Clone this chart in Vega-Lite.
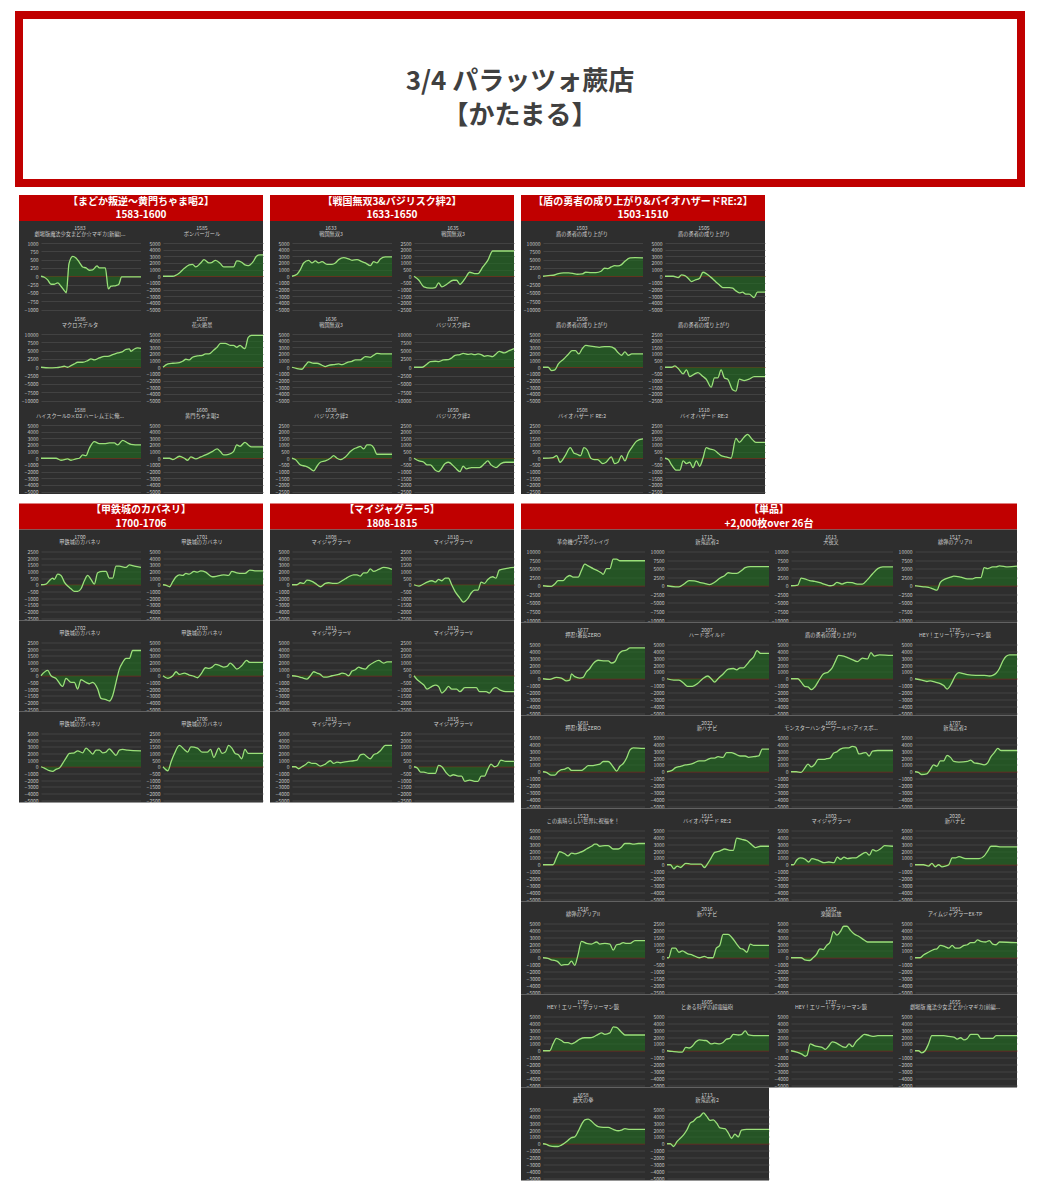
{
"$schema":"https://vega.github.io/schema/vega-lite/v6.json",
"background":"white",
"padding":{"left":15,"top":11,"right":0,"bottom":0},
"spacing":8,
"datasets":{
"d1583":[{"x":0,"y":0},{"x":1,"y":-30},{"x":2,"y":-110},{"x":3,"y":-240},{"x":4,"y":-240},{"x":5,"y":-200},{"x":6,"y":-300},{"x":7,"y":-430},{"x":7.6,"y":-500},{"x":8.4,"y":380},{"x":9.5,"y":600},{"x":10.5,"y":550},{"x":11.5,"y":420},{"x":12.5,"y":280},{"x":13.5,"y":250},{"x":14.5,"y":180},{"x":15.5,"y":190},{"x":16.8,"y":310},{"x":17.5,"y":250},{"x":18.5,"y":250},{"x":19.3,"y":250},{"x":20.2,"y":-380},{"x":21,"y":-300},{"x":22.5,"y":-280},{"x":23.3,"y":-250},{"x":24.2,"y":-20},{"x":26,"y":-20},{"x":30,"y":-20}],
"d1585":[{"x":0,"y":0},{"x":3,"y":0},{"x":5,"y":500},{"x":6.5,"y":1200},{"x":8,"y":1700},{"x":9,"y":1800},{"x":10,"y":1400},{"x":11.5,"y":2000},{"x":12.5,"y":2500},{"x":14,"y":2000},{"x":15,"y":2100},{"x":16,"y":2400},{"x":17.5,"y":1900},{"x":18.5,"y":1400},{"x":20,"y":1400},{"x":21.5,"y":1400},{"x":22.5,"y":2300},{"x":24,"y":2100},{"x":25,"y":1700},{"x":26,"y":1600},{"x":27.5,"y":2200},{"x":28.5,"y":3000},{"x":29.5,"y":3200},{"x":30.5,"y":3200}],
"d1586":[{"x":0,"y":0},{"x":2.5,"y":-200},{"x":4.5,"y":-100},{"x":5.5,"y":0},{"x":7,"y":300},{"x":8,"y":0},{"x":9,"y":500},{"x":10,"y":1000},{"x":11,"y":1500},{"x":12.5,"y":1500},{"x":14,"y":2000},{"x":15,"y":2500},{"x":16,"y":2200},{"x":17.5,"y":2800},{"x":19,"y":3300},{"x":20,"y":3300},{"x":21.5,"y":3800},{"x":23,"y":4300},{"x":24.5,"y":4700},{"x":25.5,"y":5400},{"x":26.5,"y":5500},{"x":27,"y":4800},{"x":28,"y":5500},{"x":29,"y":5800},{"x":30,"y":5700}],
"d1587":[{"x":0,"y":0},{"x":1.5,"y":500},{"x":3,"y":600},{"x":5,"y":700},{"x":6,"y":900},{"x":7,"y":1200},{"x":8,"y":1100},{"x":9,"y":1500},{"x":10.5,"y":1700},{"x":12,"y":1800},{"x":13,"y":2000},{"x":14,"y":2000},{"x":15.5,"y":2600},{"x":16.5,"y":3000},{"x":17.5,"y":3600},{"x":19,"y":3600},{"x":20.5,"y":3300},{"x":21.5,"y":3300},{"x":22.5,"y":3000},{"x":23.5,"y":3300},{"x":24.5,"y":2900},{"x":25,"y":2800},{"x":26,"y":4500},{"x":27,"y":4800},{"x":30.5,"y":4800}],
"d1588":[{"x":0,"y":0},{"x":4.5,"y":0},{"x":6,"y":-300},{"x":8,"y":-100},{"x":9,"y":-300},{"x":10.5,"y":-100},{"x":11.5,"y":0},{"x":12.5,"y":500},{"x":13.5,"y":400},{"x":14.5,"y":1500},{"x":16,"y":2500},{"x":17.5,"y":2200},{"x":19,"y":2200},{"x":20.5,"y":2300},{"x":22,"y":2300},{"x":23,"y":2000},{"x":24.5,"y":2700},{"x":26,"y":2300},{"x":27,"y":2100},{"x":30,"y":2000}],
"d1600":[{"x":0,"y":0},{"x":2,"y":0},{"x":3,"y":-200},{"x":5,"y":300},{"x":6.5,"y":0},{"x":7.5,"y":-300},{"x":8.5,"y":200},{"x":10,"y":-100},{"x":11.5,"y":200},{"x":13,"y":500},{"x":15,"y":1000},{"x":16.5,"y":1400},{"x":17.5,"y":1000},{"x":18.5,"y":500},{"x":20,"y":600},{"x":21.5,"y":1000},{"x":22.5,"y":2000},{"x":23.5,"y":1800},{"x":25,"y":2400},{"x":26,"y":2000},{"x":27,"y":1700},{"x":30.5,"y":1700}],
"d1633":[{"x":0,"y":0},{"x":1.5,"y":300},{"x":2.5,"y":1000},{"x":3.5,"y":2000},{"x":5,"y":2400},{"x":6,"y":2000},{"x":7,"y":2300},{"x":8,"y":2000},{"x":9,"y":2200},{"x":10.5,"y":1800},{"x":12,"y":1800},{"x":13,"y":2000},{"x":14,"y":2500},{"x":15.5,"y":2800},{"x":17,"y":2600},{"x":18,"y":2400},{"x":19.5,"y":2500},{"x":21,"y":2200},{"x":22,"y":2000},{"x":23.5,"y":1600},{"x":24.5,"y":2200},{"x":25.5,"y":2000},{"x":26.5,"y":2600},{"x":28,"y":2900},{"x":30,"y":2900}],
"d1635":[{"x":0,"y":0},{"x":1.5,"y":-300},{"x":3,"y":-800},{"x":5,"y":-900},{"x":6.5,"y":-850},{"x":7.5,"y":-500},{"x":8.5,"y":-800},{"x":10,"y":-600},{"x":12,"y":-300},{"x":13,"y":-300},{"x":14,"y":-600},{"x":15.5,"y":-200},{"x":17,"y":300},{"x":18.5,"y":200},{"x":19.5,"y":200},{"x":21,"y":700},{"x":22.5,"y":1200},{"x":24,"y":1900},{"x":30.5,"y":1900}],
"d1636":[{"x":0,"y":0},{"x":1.5,"y":-200},{"x":3,"y":-300},{"x":4,"y":300},{"x":5,"y":800},{"x":6.5,"y":600},{"x":7.5,"y":600},{"x":9,"y":300},{"x":10,"y":100},{"x":11,"y":300},{"x":12.5,"y":400},{"x":14,"y":500},{"x":15,"y":400},{"x":16.5,"y":700},{"x":18,"y":900},{"x":19,"y":1100},{"x":20.5,"y":1100},{"x":22,"y":1600},{"x":23.5,"y":1500},{"x":24.5,"y":1800},{"x":25.5,"y":2100},{"x":27,"y":2000},{"x":30,"y":2000}],
"d1637":[{"x":0,"y":0},{"x":2.5,"y":0},{"x":4,"y":1000},{"x":5,"y":1700},{"x":6.5,"y":1800},{"x":7.5,"y":1700},{"x":9,"y":2200},{"x":10.5,"y":2300},{"x":11.5,"y":2800},{"x":12.5,"y":3600},{"x":14,"y":3800},{"x":15,"y":4200},{"x":16.5,"y":3900},{"x":17.5,"y":4000},{"x":18.5,"y":3800},{"x":19.5,"y":4000},{"x":20.5,"y":3800},{"x":21.5,"y":3300},{"x":22.5,"y":3500},{"x":24,"y":3200},{"x":25,"y":4000},{"x":26,"y":4800},{"x":27.5,"y":4300},{"x":29,"y":5000},{"x":30.5,"y":5600}],
"d1638":[{"x":0,"y":0},{"x":1,"y":-100},{"x":2.5,"y":-500},{"x":4,"y":-600},{"x":5,"y":-700},{"x":6.5,"y":-950},{"x":7.5,"y":-600},{"x":8.5,"y":-300},{"x":10,"y":-200},{"x":11.5,"y":0},{"x":12.5,"y":200},{"x":13.5,"y":0},{"x":14.5,"y":-100},{"x":16,"y":100},{"x":17.5,"y":500},{"x":18.5,"y":700},{"x":19.5,"y":800},{"x":20.5,"y":900},{"x":21.5,"y":700},{"x":22.5,"y":1000},{"x":23.5,"y":1000},{"x":24.5,"y":800},{"x":25.5,"y":300},{"x":27.5,"y":300},{"x":30,"y":300}],
"d1650":[{"x":0,"y":0},{"x":1.5,"y":-200},{"x":3,"y":-300},{"x":4,"y":-500},{"x":5,"y":-500},{"x":6.5,"y":-900},{"x":7.5,"y":-1000},{"x":9.5,"y":-400},{"x":10.5,"y":-300},{"x":12.5,"y":-700},{"x":14,"y":-1000},{"x":15,"y":-600},{"x":16,"y":-800},{"x":17.5,"y":-700},{"x":20,"y":-700},{"x":21.5,"y":-400},{"x":22.5,"y":-200},{"x":23.5,"y":-500},{"x":25,"y":-700},{"x":26.5,"y":-400},{"x":28,"y":-300},{"x":30.5,"y":-300}],
"d1503":[{"x":0,"y":0},{"x":1.5,"y":200},{"x":3,"y":300},{"x":4.5,"y":800},{"x":6,"y":1000},{"x":7.5,"y":1000},{"x":9,"y":800},{"x":10,"y":600},{"x":11.5,"y":700},{"x":12.5,"y":1200},{"x":14,"y":1100},{"x":15.5,"y":1100},{"x":17,"y":1500},{"x":18,"y":2400},{"x":19,"y":2300},{"x":20,"y":2800},{"x":21,"y":3200},{"x":22,"y":3100},{"x":23,"y":3500},{"x":24,"y":4500},{"x":25.5,"y":5500},{"x":27,"y":5600},{"x":29.3,"y":5500}],
"d1505":[{"x":0,"y":0},{"x":2.5,"y":0},{"x":4,"y":-200},{"x":5,"y":200},{"x":6,"y":100},{"x":7,"y":-300},{"x":8,"y":-800},{"x":9,"y":-600},{"x":10.5,"y":-300},{"x":11.5,"y":600},{"x":12.5,"y":400},{"x":13.5,"y":0},{"x":14.5,"y":-400},{"x":15.5,"y":-900},{"x":16.5,"y":-1300},{"x":17.5,"y":-1700},{"x":19.5,"y":-1700},{"x":20.5,"y":-1800},{"x":21.5,"y":-2200},{"x":22.5,"y":-2500},{"x":23.5,"y":-2400},{"x":24.5,"y":-2700},{"x":25.5,"y":-2700},{"x":27,"y":-3200},{"x":28,"y":-2400},{"x":30.3,"y":-2400}],
"d1506":[{"x":0,"y":0},{"x":1.5,"y":0},{"x":2.5,"y":-500},{"x":3.5,"y":-400},{"x":4.5,"y":500},{"x":6,"y":1200},{"x":7.5,"y":2000},{"x":8.5,"y":2500},{"x":9.5,"y":2500},{"x":10.5,"y":2000},{"x":11.5,"y":2800},{"x":12.5,"y":3300},{"x":13.5,"y":3200},{"x":15,"y":3100},{"x":16.5,"y":3000},{"x":18,"y":3100},{"x":19.5,"y":3100},{"x":21,"y":2800},{"x":22,"y":2200},{"x":23,"y":1800},{"x":24,"y":2300},{"x":25,"y":1800},{"x":26,"y":2000},{"x":29.3,"y":2000}],
"d1507":[{"x":0,"y":0},{"x":2,"y":0},{"x":3,"y":100},{"x":4,"y":-100},{"x":5.5,"y":-500},{"x":6.5,"y":-200},{"x":7.5,"y":-700},{"x":9,"y":-500},{"x":10,"y":-400},{"x":11.5,"y":-700},{"x":12.5,"y":-900},{"x":14,"y":-1500},{"x":15,"y":-800},{"x":16,"y":-800},{"x":17,"y":-200},{"x":18,"y":-800},{"x":19,"y":-900},{"x":20.5,"y":-1700},{"x":21.5,"y":-1800},{"x":22.5,"y":-900},{"x":24,"y":-1000},{"x":25.5,"y":-900},{"x":27,"y":-700},{"x":30.3,"y":-700}],
"d1508":[{"x":0,"y":0},{"x":3,"y":50},{"x":4,"y":200},{"x":5,"y":-300},{"x":6.5,"y":200},{"x":8,"y":800},{"x":9,"y":400},{"x":10,"y":300},{"x":11,"y":200},{"x":12,"y":800},{"x":13,"y":600},{"x":14,"y":0},{"x":15,"y":-100},{"x":16,"y":-100},{"x":17.5,"y":-400},{"x":18.5,"y":-300},{"x":20,"y":100},{"x":21,"y":-400},{"x":22,"y":-300},{"x":23,"y":200},{"x":24,"y":-200},{"x":25,"y":400},{"x":26,"y":800},{"x":27.5,"y":1300},{"x":29.3,"y":1450}],
"d1510":[{"x":0,"y":0},{"x":1,"y":-100},{"x":2,"y":-500},{"x":3.5,"y":-900},{"x":4.5,"y":-900},{"x":5.5,"y":-200},{"x":6.5,"y":-400},{"x":7.5,"y":-300},{"x":8.5,"y":-700},{"x":9.5,"y":-200},{"x":10.5,"y":-600},{"x":11.5,"y":0},{"x":12.5,"y":800},{"x":13.5,"y":700},{"x":15,"y":600},{"x":16,"y":400},{"x":17,"y":200},{"x":18.5,"y":100},{"x":20,"y":0},{"x":21.5,"y":1500},{"x":22.5,"y":1200},{"x":24,"y":1600},{"x":25,"y":1800},{"x":26.5,"y":1400},{"x":27.5,"y":1200},{"x":30.3,"y":1200}],
"d1700":[{"x":0,"y":0},{"x":1.5,"y":50},{"x":2.5,"y":300},{"x":3.5,"y":500},{"x":4,"y":400},{"x":5,"y":800},{"x":6,"y":700},{"x":7,"y":200},{"x":8,"y":-100},{"x":9,"y":-300},{"x":10,"y":-500},{"x":11,"y":-500},{"x":12,"y":-300},{"x":13,"y":300},{"x":14,"y":700},{"x":15,"y":400},{"x":16,"y":50},{"x":17,"y":900},{"x":18.5,"y":1000},{"x":19.5,"y":1000},{"x":20.5,"y":500},{"x":21.5,"y":500},{"x":22.5,"y":1400},{"x":23.5,"y":1400},{"x":25.5,"y":1300},{"x":26.5,"y":1500},{"x":28,"y":1400},{"x":30,"y":1300}],
"d1701":[{"x":0,"y":0},{"x":1,"y":-100},{"x":2,"y":-300},{"x":3,"y":500},{"x":4,"y":1200},{"x":5,"y":1500},{"x":6,"y":1400},{"x":7,"y":1700},{"x":8,"y":1600},{"x":9.5,"y":2000},{"x":10.5,"y":1900},{"x":11.5,"y":2100},{"x":13,"y":1900},{"x":14,"y":1500},{"x":15,"y":1200},{"x":16.5,"y":1300},{"x":17.5,"y":1400},{"x":18.5,"y":1500},{"x":20,"y":1400},{"x":21,"y":2000},{"x":22.5,"y":1800},{"x":24,"y":1700},{"x":25,"y":1700},{"x":26.5,"y":2200},{"x":28,"y":2100},{"x":30.5,"y":2100}],
"d1702":[{"x":0,"y":0},{"x":2,"y":400},{"x":3,"y":0},{"x":4.5,"y":-200},{"x":6.5,"y":-800},{"x":7.5,"y":-200},{"x":9,"y":-500},{"x":10,"y":-500},{"x":11,"y":-1000},{"x":12,"y":-300},{"x":13.5,"y":-500},{"x":14.5,"y":-600},{"x":15.5,"y":-500},{"x":17,"y":-1000},{"x":18,"y":-1700},{"x":19.5,"y":-1800},{"x":20.5,"y":-1900},{"x":21.5,"y":-1500},{"x":22.5,"y":-500},{"x":23.5,"y":500},{"x":24.5,"y":1000},{"x":25.5,"y":1300},{"x":26.5,"y":1300},{"x":27.5,"y":1900},{"x":30,"y":1900}],
"d1703":[{"x":0,"y":0},{"x":1.5,"y":-400},{"x":3,"y":0},{"x":4,"y":600},{"x":5,"y":200},{"x":6.5,"y":400},{"x":8,"y":100},{"x":9.5,"y":-100},{"x":10.5,"y":-300},{"x":11.5,"y":200},{"x":13,"y":1200},{"x":14,"y":1100},{"x":15,"y":1300},{"x":16,"y":1700},{"x":17.5,"y":1500},{"x":18.5,"y":1300},{"x":19.5,"y":1400},{"x":20.5,"y":1900},{"x":21.5,"y":1500},{"x":22.5,"y":1000},{"x":24,"y":1500},{"x":25.5,"y":2300},{"x":26.5,"y":2000},{"x":30.5,"y":2000}],
"d1705":[{"x":0,"y":0},{"x":1,"y":-200},{"x":2.5,"y":-600},{"x":3.5,"y":-700},{"x":4.5,"y":-400},{"x":5.5,"y":-200},{"x":6.5,"y":500},{"x":7.5,"y":1300},{"x":8.5,"y":2000},{"x":10,"y":2100},{"x":11,"y":2400},{"x":12.5,"y":2100},{"x":13.5,"y":2800},{"x":14.5,"y":2400},{"x":15.5,"y":1900},{"x":16.5,"y":2500},{"x":17.5,"y":2500},{"x":18.5,"y":2100},{"x":19.5,"y":2200},{"x":20.5,"y":2700},{"x":21.5,"y":2200},{"x":22.5,"y":1700},{"x":23.5,"y":2500},{"x":24.5,"y":2600},{"x":26,"y":2500},{"x":30,"y":2400}],
"d1706":[{"x":0,"y":0},{"x":1.5,"y":-300},{"x":2.5,"y":400},{"x":3.5,"y":1000},{"x":5,"y":1600},{"x":6.5,"y":1300},{"x":7.5,"y":1100},{"x":8.5,"y":1500},{"x":10.5,"y":1400},{"x":12,"y":1100},{"x":13.5,"y":1100},{"x":14.5,"y":1300},{"x":15.5,"y":700},{"x":17,"y":1400},{"x":18,"y":1000},{"x":19,"y":1100},{"x":20,"y":1600},{"x":21,"y":1400},{"x":22,"y":1000},{"x":23,"y":900},{"x":24,"y":600},{"x":25,"y":1300},{"x":26,"y":1000},{"x":30.5,"y":1000}],
"d1808":[{"x":0,"y":0},{"x":1.5,"y":0},{"x":2.5,"y":300},{"x":3.5,"y":200},{"x":4.5,"y":700},{"x":6,"y":500},{"x":7,"y":200},{"x":8.5,"y":-300},{"x":10,"y":200},{"x":11,"y":300},{"x":12.5,"y":200},{"x":13.5,"y":200},{"x":15,"y":600},{"x":16,"y":900},{"x":17,"y":1200},{"x":18.5,"y":1500},{"x":19.5,"y":1500},{"x":20.5,"y":1300},{"x":21.5,"y":1800},{"x":22.5,"y":1800},{"x":23.5,"y":2400},{"x":24.5,"y":2000},{"x":26,"y":2300},{"x":27.5,"y":2600},{"x":29,"y":2500},{"x":30,"y":2300}],
"d1810":[{"x":0,"y":0},{"x":1.5,"y":-100},{"x":2.5,"y":0},{"x":4,"y":200},{"x":5.5,"y":300},{"x":6.5,"y":200},{"x":7.5,"y":400},{"x":8.5,"y":300},{"x":9.5,"y":500},{"x":10.5,"y":500},{"x":11.5,"y":0},{"x":12.5,"y":-500},{"x":14,"y":-1000},{"x":15,"y":-1300},{"x":16.5,"y":-1000},{"x":17.5,"y":-600},{"x":18.5,"y":-400},{"x":19.5,"y":-400},{"x":20.5,"y":200},{"x":21.5,"y":100},{"x":22.5,"y":400},{"x":24,"y":600},{"x":25,"y":500},{"x":26,"y":1100},{"x":27.5,"y":1200},{"x":30.5,"y":1300}],
"d1811":[{"x":0,"y":0},{"x":1.5,"y":-100},{"x":3,"y":-300},{"x":4.5,"y":-500},{"x":5.5,"y":0},{"x":6.5,"y":600},{"x":7.5,"y":400},{"x":8.5,"y":200},{"x":9.5,"y":-200},{"x":10.5,"y":-200},{"x":12,"y":0},{"x":13,"y":100},{"x":14,"y":200},{"x":15,"y":400},{"x":16,"y":300},{"x":17,"y":0},{"x":18,"y":700},{"x":19,"y":900},{"x":20,"y":1300},{"x":21,"y":1100},{"x":22,"y":1000},{"x":23,"y":1500},{"x":24.5,"y":2000},{"x":26,"y":2300},{"x":27.5,"y":1900},{"x":28.5,"y":2100},{"x":30,"y":2100}],
"d1812":[{"x":0,"y":0},{"x":1,"y":-300},{"x":2,"y":-500},{"x":3,"y":-700},{"x":4,"y":-1000},{"x":5.5,"y":-800},{"x":6.5,"y":-700},{"x":7.5,"y":-800},{"x":8.5,"y":-1300},{"x":9.5,"y":-1100},{"x":10.5,"y":-800},{"x":11.5,"y":-1000},{"x":13,"y":-1000},{"x":14,"y":-1200},{"x":15.5,"y":-900},{"x":18,"y":-900},{"x":19,"y":-900},{"x":20,"y":-1200},{"x":22,"y":-1200},{"x":23,"y":-1300},{"x":24,"y":-1000},{"x":25,"y":-900},{"x":26.5,"y":-1100},{"x":28,"y":-1200},{"x":30.5,"y":-1200}],
"d1813":[{"x":0,"y":0},{"x":1,"y":0},{"x":2,"y":-300},{"x":3,"y":0},{"x":4,"y":300},{"x":5,"y":700},{"x":6,"y":500},{"x":7,"y":500},{"x":8.5,"y":100},{"x":10,"y":400},{"x":11.5,"y":900},{"x":12.5,"y":500},{"x":13.5,"y":700},{"x":14.5,"y":600},{"x":15.5,"y":700},{"x":17,"y":800},{"x":18.5,"y":900},{"x":19.5,"y":1000},{"x":20.5,"y":1800},{"x":21.5,"y":1900},{"x":22.5,"y":1500},{"x":23.5,"y":1200},{"x":24.5,"y":1800},{"x":25.5,"y":2000},{"x":26.5,"y":2400},{"x":28,"y":3200},{"x":30,"y":3200}],
"d1815":[{"x":0,"y":0},{"x":1,"y":-100},{"x":2,"y":-400},{"x":3,"y":-400},{"x":4.5,"y":-500},{"x":5.5,"y":-500},{"x":6.5,"y":-500},{"x":7.5,"y":100},{"x":8.5,"y":0},{"x":10,"y":-500},{"x":11,"y":-700},{"x":12,"y":-600},{"x":13.5,"y":-700},{"x":14.5,"y":-700},{"x":15.5,"y":-1100},{"x":17,"y":-1000},{"x":18.5,"y":-1100},{"x":19.5,"y":-1100},{"x":20.5,"y":-700},{"x":21.5,"y":-700},{"x":22.5,"y":-200},{"x":23.5,"y":200},{"x":24.5,"y":0},{"x":25.5,"y":100},{"x":26.5,"y":500},{"x":28,"y":400},{"x":30.5,"y":400}],
"d1730":[{"x":0,"y":0},{"x":2.5,"y":-200},{"x":3.5,"y":500},{"x":4.5,"y":1500},{"x":6,"y":1500},{"x":7,"y":2500},{"x":8,"y":3000},{"x":9,"y":2500},{"x":10.5,"y":2500},{"x":11.5,"y":4500},{"x":12.5,"y":6300},{"x":13.5,"y":5800},{"x":15,"y":5000},{"x":16.5,"y":4300},{"x":17.5,"y":3700},{"x":18,"y":3300},{"x":19,"y":5000},{"x":20,"y":5000},{"x":21,"y":7800},{"x":22,"y":7800},{"x":23,"y":7300},{"x":30.5,"y":7300}],
"d1712":[{"x":0,"y":0},{"x":2.5,"y":-300},{"x":3.5,"y":-300},{"x":5,"y":500},{"x":6.5,"y":1500},{"x":8,"y":1400},{"x":9.5,"y":1000},{"x":11,"y":700},{"x":12.5,"y":300},{"x":14,"y":1000},{"x":15.5,"y":2200},{"x":17,"y":3000},{"x":18,"y":3800},{"x":19.5,"y":3600},{"x":20.5,"y":3600},{"x":22,"y":4500},{"x":23,"y":5300},{"x":24.5,"y":5600},{"x":30,"y":5600}],
"d1613":[{"x":0,"y":0},{"x":2,"y":200},{"x":3,"y":2200},{"x":4,"y":2000},{"x":5.5,"y":1500},{"x":7,"y":1300},{"x":8.5,"y":900},{"x":10,"y":400},{"x":11.5,"y":0},{"x":12.5,"y":200},{"x":13.5,"y":1000},{"x":15,"y":500},{"x":16.5,"y":1000},{"x":18,"y":900},{"x":19.5,"y":500},{"x":21,"y":500},{"x":22.5,"y":1800},{"x":24,"y":3500},{"x":25.5,"y":5000},{"x":27,"y":5500},{"x":30,"y":5500}],
"d1517":[{"x":0,"y":0},{"x":2.5,"y":-300},{"x":4,"y":-500},{"x":5.5,"y":-1000},{"x":6.5,"y":-1300},{"x":7.5,"y":1000},{"x":9,"y":2000},{"x":10.5,"y":2500},{"x":11.5,"y":2800},{"x":13.5,"y":2500},{"x":15.5,"y":2000},{"x":17,"y":2000},{"x":18,"y":2400},{"x":19.5,"y":2400},{"x":20.5,"y":5300},{"x":21.5,"y":5000},{"x":23,"y":5500},{"x":24,"y":5500},{"x":25,"y":5800},{"x":27.5,"y":5500},{"x":30.2,"y":5700}],
"d1677":[{"x":0,"y":0},{"x":2,"y":-100},{"x":4,"y":200},{"x":5.5,"y":100},{"x":7,"y":-300},{"x":8,"y":-200},{"x":8.5,"y":700},{"x":9.5,"y":300},{"x":11,"y":100},{"x":12,"y":200},{"x":13,"y":1000},{"x":14,"y":1500},{"x":15,"y":2200},{"x":16.5,"y":2700},{"x":18.5,"y":2600},{"x":19.5,"y":2600},{"x":20.5,"y":2300},{"x":21.5,"y":2500},{"x":22.5,"y":3500},{"x":23.5,"y":4000},{"x":25,"y":4200},{"x":26,"y":4500},{"x":30.5,"y":4500}],
"d2007":[{"x":0,"y":0},{"x":2,"y":-200},{"x":3.5,"y":-200},{"x":5,"y":-700},{"x":6,"y":-1100},{"x":7.5,"y":-1100},{"x":9,"y":-700},{"x":10.5,"y":0},{"x":12,"y":400},{"x":13,"y":0},{"x":14,"y":-500},{"x":15,"y":0},{"x":16.5,"y":700},{"x":18,"y":1400},{"x":19.5,"y":1500},{"x":20.5,"y":1300},{"x":21.5,"y":1600},{"x":22.5,"y":1600},{"x":23.5,"y":2100},{"x":24.5,"y":2700},{"x":25.5,"y":3200},{"x":26.5,"y":4100},{"x":27.5,"y":3700},{"x":30,"y":3700}],
"d1501":[{"x":0,"y":0},{"x":2,"y":0},{"x":3,"y":-500},{"x":4,"y":-1100},{"x":5,"y":-1200},{"x":6,"y":-1600},{"x":7,"y":-1200},{"x":8.5,"y":0},{"x":9.5,"y":700},{"x":11,"y":1000},{"x":12,"y":1500},{"x":13,"y":2500},{"x":14,"y":3400},{"x":15.5,"y":3300},{"x":17,"y":3000},{"x":18,"y":2800},{"x":19.5,"y":2500},{"x":21,"y":3000},{"x":22.5,"y":2900},{"x":23.5,"y":3800},{"x":24.5,"y":3300},{"x":26,"y":3500},{"x":30,"y":3400}],
"d1735":[{"x":0,"y":0},{"x":2,"y":-200},{"x":3.5,"y":-400},{"x":4.5,"y":-300},{"x":6,"y":-500},{"x":7.5,"y":-700},{"x":8.5,"y":-1000},{"x":9.5,"y":-1500},{"x":11,"y":-500},{"x":12,"y":500},{"x":13,"y":900},{"x":14,"y":800},{"x":15.5,"y":600},{"x":18,"y":500},{"x":20.5,"y":500},{"x":22,"y":400},{"x":23,"y":500},{"x":24,"y":800},{"x":25,"y":1500},{"x":26,"y":2600},{"x":27,"y":3300},{"x":28,"y":3500},{"x":30.2,"y":3500}],
"d1681":[{"x":0,"y":0},{"x":1,"y":-100},{"x":2.5,"y":-500},{"x":3.5,"y":-500},{"x":4.5,"y":0},{"x":5.5,"y":300},{"x":6.5,"y":400},{"x":7.5,"y":600},{"x":8.5,"y":200},{"x":10,"y":200},{"x":11.5,"y":200},{"x":12.5,"y":500},{"x":13.5,"y":900},{"x":15,"y":900},{"x":16,"y":1000},{"x":17,"y":1100},{"x":18,"y":1500},{"x":19.5,"y":1500},{"x":21,"y":700},{"x":22,"y":100},{"x":23,"y":800},{"x":24,"y":1200},{"x":25,"y":2000},{"x":26,"y":3200},{"x":27,"y":3500},{"x":30.5,"y":3400}],
"d2022":[{"x":0,"y":0},{"x":1.5,"y":200},{"x":2.5,"y":600},{"x":4,"y":800},{"x":5.5,"y":1000},{"x":7,"y":1100},{"x":8,"y":1300},{"x":9.5,"y":1600},{"x":11,"y":1600},{"x":12,"y":1800},{"x":13,"y":2000},{"x":14,"y":2000},{"x":15,"y":2200},{"x":16.5,"y":2100},{"x":17.5,"y":2800},{"x":19,"y":2800},{"x":20,"y":2600},{"x":21.5,"y":2300},{"x":23,"y":2300},{"x":24,"y":2100},{"x":25.5,"y":2200},{"x":27,"y":2300},{"x":28,"y":3300},{"x":30,"y":3300}],
"d1665":[{"x":0,"y":0},{"x":1.5,"y":0},{"x":3,"y":-100},{"x":4,"y":500},{"x":5,"y":1100},{"x":6,"y":700},{"x":7,"y":1100},{"x":8,"y":1800},{"x":9.5,"y":1800},{"x":10.5,"y":1900},{"x":11.5,"y":2000},{"x":12.5,"y":2700},{"x":13.5,"y":2900},{"x":14.5,"y":3300},{"x":16,"y":3500},{"x":17,"y":3500},{"x":18,"y":3700},{"x":19,"y":3600},{"x":20,"y":2600},{"x":21,"y":2700},{"x":22,"y":2800},{"x":23,"y":2300},{"x":24,"y":3000},{"x":25.5,"y":3100},{"x":30,"y":3100}],
"d1707":[{"x":0,"y":0},{"x":1,"y":-100},{"x":2,"y":-400},{"x":3.5,"y":-300},{"x":4.5,"y":300},{"x":5.5,"y":1000},{"x":6.5,"y":800},{"x":7.5,"y":1600},{"x":8.5,"y":1600},{"x":9.5,"y":2400},{"x":10.5,"y":2100},{"x":11.5,"y":1500},{"x":13,"y":1400},{"x":15.5,"y":1500},{"x":16.5,"y":1700},{"x":17.5,"y":1300},{"x":19,"y":1200},{"x":20.5,"y":1000},{"x":21.5,"y":1300},{"x":22.5,"y":2200},{"x":23.5,"y":2800},{"x":24.5,"y":3400},{"x":25.5,"y":3100},{"x":30.2,"y":3100}],
"d1523":[{"x":0,"y":0},{"x":3,"y":0},{"x":4,"y":1000},{"x":5,"y":1900},{"x":6.5,"y":1600},{"x":7.5,"y":1300},{"x":8.5,"y":1700},{"x":9.5,"y":1600},{"x":11,"y":1800},{"x":12,"y":2000},{"x":13,"y":2300},{"x":14.5,"y":2700},{"x":15.5,"y":3000},{"x":16,"y":3000},{"x":17,"y":2700},{"x":18.5,"y":2800},{"x":19.5,"y":2800},{"x":21,"y":2300},{"x":22.5,"y":2300},{"x":23.5,"y":2600},{"x":24.5,"y":3100},{"x":26,"y":3100},{"x":27,"y":3000},{"x":28.5,"y":3100},{"x":30.5,"y":3100}],
"d1515":[{"x":0,"y":0},{"x":1,"y":0},{"x":2,"y":-600},{"x":3,"y":-200},{"x":4,"y":-400},{"x":5.5,"y":200},{"x":7,"y":100},{"x":8.5,"y":100},{"x":10,"y":100},{"x":11,"y":-400},{"x":12,"y":200},{"x":13,"y":1000},{"x":14,"y":1800},{"x":15.5,"y":2000},{"x":17,"y":2300},{"x":18.5,"y":2100},{"x":19.5,"y":2100},{"x":20.5,"y":3900},{"x":22,"y":3700},{"x":23.5,"y":3500},{"x":25,"y":2900},{"x":26,"y":2500},{"x":27.5,"y":2700},{"x":30,"y":2700}],
"d1802":[{"x":0,"y":0},{"x":0.7,"y":0},{"x":1.7,"y":700},{"x":2.7,"y":1000},{"x":4.2,"y":800},{"x":5.2,"y":400},{"x":6.2,"y":900},{"x":7.7,"y":700},{"x":8.7,"y":500},{"x":9.7,"y":300},{"x":11.2,"y":400},{"x":12.7,"y":300},{"x":13.7,"y":1100},{"x":14.7,"y":800},{"x":15.7,"y":1100},{"x":16.7,"y":900},{"x":18.2,"y":1000},{"x":19.2,"y":1000},{"x":20.2,"y":1300},{"x":22.2,"y":1800},{"x":23.2,"y":1400},{"x":24.2,"y":2200},{"x":25.2,"y":2000},{"x":26.7,"y":2400},{"x":27.7,"y":2800},{"x":30.2,"y":2700}],
"d2020":[{"x":0,"y":0},{"x":2.5,"y":0},{"x":4,"y":-200},{"x":5,"y":200},{"x":6,"y":-300},{"x":7,"y":0},{"x":8,"y":-300},{"x":9,"y":-200},{"x":10,"y":0},{"x":11,"y":1000},{"x":12,"y":1000},{"x":13,"y":1200},{"x":15,"y":900},{"x":19,"y":900},{"x":20.5,"y":1300},{"x":21.5,"y":2000},{"x":22.5,"y":2700},{"x":24,"y":2700},{"x":25.5,"y":2600},{"x":30.2,"y":2600}],
"d1516":[{"x":0,"y":0},{"x":1.5,"y":-100},{"x":2.5,"y":-300},{"x":3.5,"y":-400},{"x":4.5,"y":-600},{"x":5.5,"y":-1100},{"x":6.5,"y":-1000},{"x":7.5,"y":-1000},{"x":8.5,"y":-500},{"x":9.5,"y":-1100},{"x":10.5,"y":500},{"x":11.5,"y":2400},{"x":13,"y":2100},{"x":14.5,"y":2000},{"x":16,"y":2300},{"x":17,"y":2000},{"x":18.5,"y":2100},{"x":20,"y":2000},{"x":21,"y":1100},{"x":22,"y":1900},{"x":23,"y":2000},{"x":24,"y":2200},{"x":25,"y":2100},{"x":26,"y":2100},{"x":27.5,"y":2500},{"x":30.5,"y":2500}],
"d2016":[{"x":0,"y":0},{"x":0.5,"y":0},{"x":1.5,"y":700},{"x":2.5,"y":700},{"x":3.5,"y":400},{"x":4.5,"y":500},{"x":6,"y":300},{"x":7.5,"y":200},{"x":9.5,"y":0},{"x":11,"y":100},{"x":12,"y":0},{"x":13.5,"y":0},{"x":14.5,"y":700},{"x":15.5,"y":900},{"x":16.5,"y":1700},{"x":18,"y":1700},{"x":19,"y":1500},{"x":20.5,"y":1000},{"x":21.5,"y":700},{"x":22.5,"y":600},{"x":23.5,"y":400},{"x":24.5,"y":1000},{"x":25.5,"y":900},{"x":28,"y":900},{"x":30,"y":900}],
"d1582":[{"x":0,"y":0},{"x":3,"y":0},{"x":4,"y":-300},{"x":5.5,"y":-400},{"x":6.5,"y":0},{"x":7.5,"y":500},{"x":8.5,"y":1300},{"x":9.5,"y":1200},{"x":10.5,"y":1800},{"x":11.5,"y":2300},{"x":12.5,"y":3800},{"x":13.5,"y":3300},{"x":14.5,"y":3800},{"x":15.5,"y":4600},{"x":16.5,"y":4600},{"x":17.5,"y":4000},{"x":18.5,"y":3500},{"x":20,"y":3100},{"x":21.5,"y":2600},{"x":22.5,"y":2300},{"x":30,"y":2300}],
"d1851":[{"x":0,"y":0},{"x":1.5,"y":0},{"x":2.5,"y":400},{"x":4,"y":800},{"x":5.5,"y":1200},{"x":6.5,"y":1300},{"x":7.5,"y":1800},{"x":9,"y":1600},{"x":10,"y":1400},{"x":11,"y":1800},{"x":12,"y":1400},{"x":13,"y":1400},{"x":14.5,"y":1800},{"x":15.5,"y":1900},{"x":16.5,"y":2200},{"x":17.5,"y":2200},{"x":18.5,"y":2600},{"x":19.5,"y":2400},{"x":21,"y":2300},{"x":22,"y":2500},{"x":23,"y":2000},{"x":24,"y":1900},{"x":25,"y":2300},{"x":30.2,"y":2200}],
"d1750":[{"x":0,"y":0},{"x":2,"y":0},{"x":3,"y":1000},{"x":4,"y":1800},{"x":5.5,"y":1500},{"x":6.5,"y":1200},{"x":7.5,"y":1200},{"x":8.5,"y":1000},{"x":9.5,"y":1200},{"x":11,"y":1700},{"x":12.5,"y":1900},{"x":14,"y":1900},{"x":15,"y":2000},{"x":16.5,"y":2400},{"x":17.5,"y":2600},{"x":18.5,"y":2400},{"x":20,"y":2600},{"x":21,"y":3500},{"x":22,"y":3400},{"x":23.5,"y":2700},{"x":24.5,"y":2300},{"x":30.5,"y":2300}],
"d1605":[{"x":0,"y":0},{"x":1.5,"y":-100},{"x":3.5,"y":-200},{"x":4.5,"y":-200},{"x":5.5,"y":500},{"x":6.5,"y":400},{"x":7.5,"y":700},{"x":8.5,"y":1300},{"x":9.5,"y":1600},{"x":11,"y":1500},{"x":11.5,"y":1500},{"x":13,"y":1000},{"x":14,"y":1100},{"x":15.5,"y":1000},{"x":16.5,"y":1200},{"x":17.5,"y":1700},{"x":18.5,"y":1800},{"x":19.5,"y":2400},{"x":21,"y":2300},{"x":22,"y":2400},{"x":23,"y":2900},{"x":24,"y":2300},{"x":25.5,"y":2200},{"x":30,"y":2200}],
"d1737":[{"x":0,"y":0},{"x":1.7,"y":-200},{"x":3.2,"y":-500},{"x":4.2,"y":-800},{"x":4.7,"y":-700},{"x":5.7,"y":1000},{"x":6.7,"y":800},{"x":8.2,"y":600},{"x":9.2,"y":500},{"x":10.2,"y":200},{"x":11.2,"y":700},{"x":12.2,"y":1300},{"x":13.2,"y":1200},{"x":14.2,"y":900},{"x":15.2,"y":600},{"x":16.2,"y":500},{"x":17.2,"y":1000},{"x":18.2,"y":600},{"x":19.2,"y":1300},{"x":20.7,"y":2000},{"x":21.7,"y":2400},{"x":22.7,"y":2300},{"x":24.2,"y":2100},{"x":25.7,"y":2200},{"x":30.2,"y":2200}],
"d1655":[{"x":0,"y":0},{"x":1,"y":0},{"x":2,"y":-300},{"x":3,"y":0},{"x":4,"y":1000},{"x":5,"y":2200},{"x":7,"y":2200},{"x":8.5,"y":2200},{"x":10,"y":2100},{"x":11.5,"y":2000},{"x":12.5,"y":1700},{"x":13.5,"y":1900},{"x":14.5,"y":1600},{"x":15.5,"y":1800},{"x":16.5,"y":2400},{"x":17.5,"y":2400},{"x":18.5,"y":2400},{"x":19.5,"y":1800},{"x":21,"y":1800},{"x":23,"y":1800},{"x":24,"y":2200},{"x":25.5,"y":2200},{"x":30.2,"y":2200}],
"d1658":[{"x":0,"y":0},{"x":1,"y":-100},{"x":2,"y":-300},{"x":3.5,"y":-400},{"x":4.5,"y":-400},{"x":5.5,"y":-200},{"x":6.5,"y":100},{"x":7.5,"y":500},{"x":8.5,"y":900},{"x":9.5,"y":1000},{"x":10.5,"y":1800},{"x":11.5,"y":2800},{"x":12.5,"y":3500},{"x":13.5,"y":3600},{"x":14.5,"y":3300},{"x":15.5,"y":2800},{"x":16.5,"y":2500},{"x":18,"y":2400},{"x":19.5,"y":2400},{"x":21,"y":2100},{"x":22.5,"y":1900},{"x":23.5,"y":2000},{"x":24.5,"y":2200},{"x":26,"y":2100},{"x":30.5,"y":2100}],
"d1713":[{"x":0,"y":0},{"x":1,"y":0},{"x":2,"y":-400},{"x":3,"y":300},{"x":4,"y":800},{"x":5,"y":1300},{"x":6,"y":2000},{"x":7,"y":3000},{"x":8,"y":3300},{"x":9,"y":3800},{"x":10,"y":4000},{"x":11,"y":4500},{"x":12,"y":4000},{"x":13,"y":3400},{"x":14,"y":3500},{"x":15,"y":3000},{"x":16,"y":2300},{"x":17.5,"y":2200},{"x":18.5,"y":1600},{"x":19.5,"y":800},{"x":20.5,"y":1400},{"x":21.5,"y":1000},{"x":22.5,"y":2000},{"x":24,"y":2100},{"x":30.8,"y":2100}]
},
"vconcat":[
 {"width":1002,"height":168,"view":{"fill":"white","stroke":"#c00000","strokeWidth":8},"data":{"values":[{"k":1,"t":"3/4 パラッツォ蕨店"},{"k":2,"t":"【かたまる】"}]},"mark":{"type":"text","fontSize":26,"fontWeight":"bold","color":"#404040","font":"Noto Sans CJK JP"},"encoding":{"y":{"field":"k","type":"ordinal","axis":null,"scale":{"range":[67,101],"padding":0}},"text":{"field":"t"}}},
 {"vconcat":[
 {"hconcat":[
 {"vconcat":[
  {"width":244,"height":26,"view":{"fill":"#c00000"},"data":{"values":[{"k":1,"t":"【まどか叛逆～黄門ちゃま喝2】"},{"k":2,"t":"1583-1600"}]},"mark":{"type":"text","fontSize":10,"fontWeight":"bold","color":"white"},"encoding":{"y":{"field":"k","type":"ordinal","axis":null,"scale":{"range":[6.5,20],"padding":0}},"text":{"field":"t"}}},
  {"concat":[
   {"data":{"name":"d1583"},"title":{"text":["1583","劇場版魔法少女まどか☆マギカ[新編]..."]},"encoding":{"x":{"field":"x","type":"quantitative","axis":null,"scale":{"nice":false,"range":[22,122]}},"y":{"field":"y","type":"quantitative","scale":{"domain":[-1000,1000],"range":[88.5,22]},"axis":{"title":null,"values":[-1000,-750,-500,-250,0,250,500,750,1000]}}},"layer":[{"mark":"area"},{"mark":"line"}]},
   {"data":{"name":"d1585"},"title":{"text":["1585","ボンバーガール"]},"encoding":{"x":{"field":"x","type":"quantitative","axis":null,"scale":{"nice":false,"range":[22,122]}},"y":{"field":"y","type":"quantitative","scale":{"domain":[-5000,5000],"range":[88.5,22]},"axis":{"title":null,"values":[-5000,-4000,-3000,-2000,-1000,0,1000,2000,3000,4000,5000]}}},"layer":[{"mark":"area"},{"mark":"line"}]},
   {"data":{"name":"d1586"},"title":{"text":["1586","マクロスデルタ"]},"encoding":{"x":{"field":"x","type":"quantitative","axis":null,"scale":{"nice":false,"range":[22,122]}},"y":{"field":"y","type":"quantitative","scale":{"domain":[-10000,10000],"range":[88.5,22]},"axis":{"title":null,"values":[-10000,-7500,-5000,-2500,0,2500,5000,7500,10000]}}},"layer":[{"mark":"area"},{"mark":"line"}]},
   {"data":{"name":"d1587"},"title":{"text":["1587","花火絶景"]},"encoding":{"x":{"field":"x","type":"quantitative","axis":null,"scale":{"nice":false,"range":[22,122]}},"y":{"field":"y","type":"quantitative","scale":{"domain":[-5000,5000],"range":[88.5,22]},"axis":{"title":null,"values":[-5000,-4000,-3000,-2000,-1000,0,1000,2000,3000,4000,5000]}}},"layer":[{"mark":"area"},{"mark":"line"}]},
   {"data":{"name":"d1588"},"title":{"text":["1588","ハイスクールD×D2 ハーレム王に俺..."]},"encoding":{"x":{"field":"x","type":"quantitative","axis":null,"scale":{"nice":false,"range":[22,122]}},"y":{"field":"y","type":"quantitative","scale":{"domain":[-5000,5000],"range":[88.5,22]},"axis":{"title":null,"values":[-5000,-4000,-3000,-2000,-1000,0,1000,2000,3000,4000,5000]}}},"layer":[{"mark":"area"},{"mark":"line"}]},
   {"data":{"name":"d1600"},"title":{"text":["1600","黄門ちゃま喝2"]},"encoding":{"x":{"field":"x","type":"quantitative","axis":null,"scale":{"nice":false,"range":[22,122]}},"y":{"field":"y","type":"quantitative","scale":{"domain":[-5000,5000],"range":[88.5,22]},"axis":{"title":null,"values":[-5000,-4000,-3000,-2000,-1000,0,1000,2000,3000,4000,5000]}}},"layer":[{"mark":"area"},{"mark":"line"}]}
  ],"columns":2,"spacing":0,"bounds":"flush"},
  {"width":244,"height":5,"data":{"values":[]},"mark":"point"}
 ],"spacing":0},
 {"vconcat":[
  {"width":244,"height":26,"view":{"fill":"#c00000"},"data":{"values":[{"k":1,"t":"【戦国無双3&バジリスク絆2】"},{"k":2,"t":"1633-1650"}]},"mark":{"type":"text","fontSize":10,"fontWeight":"bold","color":"white"},"encoding":{"y":{"field":"k","type":"ordinal","axis":null,"scale":{"range":[6.5,20],"padding":0}},"text":{"field":"t"}}},
  {"concat":[
   {"data":{"name":"d1633"},"title":{"text":["1633","戦国無双3"]},"encoding":{"x":{"field":"x","type":"quantitative","axis":null,"scale":{"nice":false,"range":[22,122]}},"y":{"field":"y","type":"quantitative","scale":{"domain":[-5000,5000],"range":[88.5,22]},"axis":{"title":null,"values":[-5000,-4000,-3000,-2000,-1000,0,1000,2000,3000,4000,5000]}}},"layer":[{"mark":"area"},{"mark":"line"}]},
   {"data":{"name":"d1635"},"title":{"text":["1635","戦国無双3"]},"encoding":{"x":{"field":"x","type":"quantitative","axis":null,"scale":{"nice":false,"range":[22,122]}},"y":{"field":"y","type":"quantitative","scale":{"domain":[-2500,2500],"range":[88.5,22]},"axis":{"title":null,"values":[-2500,-2000,-1500,-1000,-500,0,500,1000,1500,2000,2500]}}},"layer":[{"mark":"area"},{"mark":"line"}]},
   {"data":{"name":"d1636"},"title":{"text":["1636","戦国無双3"]},"encoding":{"x":{"field":"x","type":"quantitative","axis":null,"scale":{"nice":false,"range":[22,122]}},"y":{"field":"y","type":"quantitative","scale":{"domain":[-5000,5000],"range":[88.5,22]},"axis":{"title":null,"values":[-5000,-4000,-3000,-2000,-1000,0,1000,2000,3000,4000,5000]}}},"layer":[{"mark":"area"},{"mark":"line"}]},
   {"data":{"name":"d1637"},"title":{"text":["1637","バジリスク絆2"]},"encoding":{"x":{"field":"x","type":"quantitative","axis":null,"scale":{"nice":false,"range":[22,122]}},"y":{"field":"y","type":"quantitative","scale":{"domain":[-10000,10000],"range":[88.5,22]},"axis":{"title":null,"values":[-10000,-7500,-5000,-2500,0,2500,5000,7500,10000]}}},"layer":[{"mark":"area"},{"mark":"line"}]},
   {"data":{"name":"d1638"},"title":{"text":["1638","バジリスク絆2"]},"encoding":{"x":{"field":"x","type":"quantitative","axis":null,"scale":{"nice":false,"range":[22,122]}},"y":{"field":"y","type":"quantitative","scale":{"domain":[-2500,2500],"range":[88.5,22]},"axis":{"title":null,"values":[-2500,-2000,-1500,-1000,-500,0,500,1000,1500,2000,2500]}}},"layer":[{"mark":"area"},{"mark":"line"}]},
   {"data":{"name":"d1650"},"title":{"text":["1650","バジリスク絆2"]},"encoding":{"x":{"field":"x","type":"quantitative","axis":null,"scale":{"nice":false,"range":[22,122]}},"y":{"field":"y","type":"quantitative","scale":{"domain":[-2500,2500],"range":[88.5,22]},"axis":{"title":null,"values":[-2500,-2000,-1500,-1000,-500,0,500,1000,1500,2000,2500]}}},"layer":[{"mark":"area"},{"mark":"line"}]}
  ],"columns":2,"spacing":0,"bounds":"flush"},
  {"width":244,"height":5,"data":{"values":[]},"mark":"point"}
 ],"spacing":0},
 {"vconcat":[
  {"width":244,"height":26,"view":{"fill":"#c00000"},"data":{"values":[{"k":1,"t":"【盾の勇者の成り上がり&バイオハザードRE:2】"},{"k":2,"t":"1503-1510"}]},"mark":{"type":"text","fontSize":10,"fontWeight":"bold","color":"white"},"encoding":{"y":{"field":"k","type":"ordinal","axis":null,"scale":{"range":[6.5,20],"padding":0}},"text":{"field":"t"}}},
  {"concat":[
   {"data":{"name":"d1503"},"title":{"text":["1503","盾の勇者の成り上がり"]},"encoding":{"x":{"field":"x","type":"quantitative","axis":null,"scale":{"nice":false,"range":[22,122]}},"y":{"field":"y","type":"quantitative","scale":{"domain":[-10000,10000],"range":[88.5,22]},"axis":{"title":null,"values":[-10000,-7500,-5000,-2500,0,2500,5000,7500,10000]}}},"layer":[{"mark":"area"},{"mark":"line"}]},
   {"data":{"name":"d1505"},"title":{"text":["1505","盾の勇者の成り上がり"]},"encoding":{"x":{"field":"x","type":"quantitative","axis":null,"scale":{"nice":false,"range":[22,122]}},"y":{"field":"y","type":"quantitative","scale":{"domain":[-5000,5000],"range":[88.5,22]},"axis":{"title":null,"values":[-5000,-4000,-3000,-2000,-1000,0,1000,2000,3000,4000,5000]}}},"layer":[{"mark":"area"},{"mark":"line"}]},
   {"data":{"name":"d1506"},"title":{"text":["1506","盾の勇者の成り上がり"]},"encoding":{"x":{"field":"x","type":"quantitative","axis":null,"scale":{"nice":false,"range":[22,122]}},"y":{"field":"y","type":"quantitative","scale":{"domain":[-5000,5000],"range":[88.5,22]},"axis":{"title":null,"values":[-5000,-4000,-3000,-2000,-1000,0,1000,2000,3000,4000,5000]}}},"layer":[{"mark":"area"},{"mark":"line"}]},
   {"data":{"name":"d1507"},"title":{"text":["1507","盾の勇者の成り上がり"]},"encoding":{"x":{"field":"x","type":"quantitative","axis":null,"scale":{"nice":false,"range":[22,122]}},"y":{"field":"y","type":"quantitative","scale":{"domain":[-2500,2500],"range":[88.5,22]},"axis":{"title":null,"values":[-2500,-2000,-1500,-1000,-500,0,500,1000,1500,2000,2500]}}},"layer":[{"mark":"area"},{"mark":"line"}]},
   {"data":{"name":"d1508"},"title":{"text":["1508","バイオハザード RE:2"]},"encoding":{"x":{"field":"x","type":"quantitative","axis":null,"scale":{"nice":false,"range":[22,122]}},"y":{"field":"y","type":"quantitative","scale":{"domain":[-2500,2500],"range":[88.5,22]},"axis":{"title":null,"values":[-2500,-2000,-1500,-1000,-500,0,500,1000,1500,2000,2500]}}},"layer":[{"mark":"area"},{"mark":"line"}]},
   {"data":{"name":"d1510"},"title":{"text":["1510","バイオハザード RE:2"]},"encoding":{"x":{"field":"x","type":"quantitative","axis":null,"scale":{"nice":false,"range":[22,122]}},"y":{"field":"y","type":"quantitative","scale":{"domain":[-2500,2500],"range":[88.5,22]},"axis":{"title":null,"values":[-2500,-2000,-1500,-1000,-500,0,500,1000,1500,2000,2500]}}},"layer":[{"mark":"area"},{"mark":"line"}]}
  ],"columns":2,"spacing":0,"bounds":"flush"},
  {"width":244,"height":5,"data":{"values":[]},"mark":"point"}
 ],"spacing":0}
 ],"spacing":4},
 {"hconcat":[
 {"vconcat":[
  {"width":244,"height":26,"view":{"fill":"#c00000"},"data":{"values":[{"k":1,"t":"【甲鉄城のカバネリ】"},{"k":2,"t":"1700-1706"}]},"mark":{"type":"text","fontSize":10,"fontWeight":"bold","color":"white"},"encoding":{"y":{"field":"k","type":"ordinal","axis":null,"scale":{"range":[6.5,20],"padding":0}},"text":{"field":"t"}}},
  {"concat":[
   {"data":{"name":"d1700"},"title":{"text":["1700","甲鉄城のカバネリ"]},"encoding":{"x":{"field":"x","type":"quantitative","axis":null,"scale":{"nice":false,"range":[22,122]}},"y":{"field":"y","type":"quantitative","scale":{"domain":[-2500,2500],"range":[88.5,22]},"axis":{"title":null,"values":[-2500,-2000,-1500,-1000,-500,0,500,1000,1500,2000,2500]}}},"layer":[{"mark":"area"},{"mark":"line"}]},
   {"data":{"name":"d1701"},"title":{"text":["1701","甲鉄城のカバネリ"]},"encoding":{"x":{"field":"x","type":"quantitative","axis":null,"scale":{"nice":false,"range":[22,122]}},"y":{"field":"y","type":"quantitative","scale":{"domain":[-5000,5000],"range":[88.5,22]},"axis":{"title":null,"values":[-5000,-4000,-3000,-2000,-1000,0,1000,2000,3000,4000,5000]}}},"layer":[{"mark":"area"},{"mark":"line"}]},
   {"data":{"name":"d1702"},"title":{"text":["1702","甲鉄城のカバネリ"]},"encoding":{"x":{"field":"x","type":"quantitative","axis":null,"scale":{"nice":false,"range":[22,122]}},"y":{"field":"y","type":"quantitative","scale":{"domain":[-2500,2500],"range":[88.5,22]},"axis":{"title":null,"values":[-2500,-2000,-1500,-1000,-500,0,500,1000,1500,2000,2500]}}},"layer":[{"mark":"area"},{"mark":"line"}]},
   {"data":{"name":"d1703"},"title":{"text":["1703","甲鉄城のカバネリ"]},"encoding":{"x":{"field":"x","type":"quantitative","axis":null,"scale":{"nice":false,"range":[22,122]}},"y":{"field":"y","type":"quantitative","scale":{"domain":[-5000,5000],"range":[88.5,22]},"axis":{"title":null,"values":[-5000,-4000,-3000,-2000,-1000,0,1000,2000,3000,4000,5000]}}},"layer":[{"mark":"area"},{"mark":"line"}]},
   {"data":{"name":"d1705"},"title":{"text":["1705","甲鉄城のカバネリ"]},"encoding":{"x":{"field":"x","type":"quantitative","axis":null,"scale":{"nice":false,"range":[22,122]}},"y":{"field":"y","type":"quantitative","scale":{"domain":[-5000,5000],"range":[88.5,22]},"axis":{"title":null,"values":[-5000,-4000,-3000,-2000,-1000,0,1000,2000,3000,4000,5000]}}},"layer":[{"mark":"area"},{"mark":"line"}]},
   {"data":{"name":"d1706"},"title":{"text":["1706","甲鉄城のカバネリ"]},"encoding":{"x":{"field":"x","type":"quantitative","axis":null,"scale":{"nice":false,"range":[22,122]}},"y":{"field":"y","type":"quantitative","scale":{"domain":[-2500,2500],"range":[88.5,22]},"axis":{"title":null,"values":[-2500,-2000,-1500,-1000,-500,0,500,1000,1500,2000,2500]}}},"layer":[{"mark":"area"},{"mark":"line"}]}
  ],"columns":2,"spacing":0,"bounds":"flush"},
  {"width":244,"height":5,"data":{"values":[]},"mark":"point"}
 ],"spacing":0},
 {"vconcat":[
  {"width":244,"height":26,"view":{"fill":"#c00000"},"data":{"values":[{"k":1,"t":"【マイジャグラー5】"},{"k":2,"t":"1808-1815"}]},"mark":{"type":"text","fontSize":10,"fontWeight":"bold","color":"white"},"encoding":{"y":{"field":"k","type":"ordinal","axis":null,"scale":{"range":[6.5,20],"padding":0}},"text":{"field":"t"}}},
  {"concat":[
   {"data":{"name":"d1808"},"title":{"text":["1808","マイジャグラーV"]},"encoding":{"x":{"field":"x","type":"quantitative","axis":null,"scale":{"nice":false,"range":[22,122]}},"y":{"field":"y","type":"quantitative","scale":{"domain":[-5000,5000],"range":[88.5,22]},"axis":{"title":null,"values":[-5000,-4000,-3000,-2000,-1000,0,1000,2000,3000,4000,5000]}}},"layer":[{"mark":"area"},{"mark":"line"}]},
   {"data":{"name":"d1810"},"title":{"text":["1810","マイジャグラーV"]},"encoding":{"x":{"field":"x","type":"quantitative","axis":null,"scale":{"nice":false,"range":[22,122]}},"y":{"field":"y","type":"quantitative","scale":{"domain":[-2500,2500],"range":[88.5,22]},"axis":{"title":null,"values":[-2500,-2000,-1500,-1000,-500,0,500,1000,1500,2000,2500]}}},"layer":[{"mark":"area"},{"mark":"line"}]},
   {"data":{"name":"d1811"},"title":{"text":["1811","マイジャグラーV"]},"encoding":{"x":{"field":"x","type":"quantitative","axis":null,"scale":{"nice":false,"range":[22,122]}},"y":{"field":"y","type":"quantitative","scale":{"domain":[-5000,5000],"range":[88.5,22]},"axis":{"title":null,"values":[-5000,-4000,-3000,-2000,-1000,0,1000,2000,3000,4000,5000]}}},"layer":[{"mark":"area"},{"mark":"line"}]},
   {"data":{"name":"d1812"},"title":{"text":["1812","マイジャグラーV"]},"encoding":{"x":{"field":"x","type":"quantitative","axis":null,"scale":{"nice":false,"range":[22,122]}},"y":{"field":"y","type":"quantitative","scale":{"domain":[-2500,2500],"range":[88.5,22]},"axis":{"title":null,"values":[-2500,-2000,-1500,-1000,-500,0,500,1000,1500,2000,2500]}}},"layer":[{"mark":"area"},{"mark":"line"}]},
   {"data":{"name":"d1813"},"title":{"text":["1813","マイジャグラーV"]},"encoding":{"x":{"field":"x","type":"quantitative","axis":null,"scale":{"nice":false,"range":[22,122]}},"y":{"field":"y","type":"quantitative","scale":{"domain":[-5000,5000],"range":[88.5,22]},"axis":{"title":null,"values":[-5000,-4000,-3000,-2000,-1000,0,1000,2000,3000,4000,5000]}}},"layer":[{"mark":"area"},{"mark":"line"}]},
   {"data":{"name":"d1815"},"title":{"text":["1815","マイジャグラーV"]},"encoding":{"x":{"field":"x","type":"quantitative","axis":null,"scale":{"nice":false,"range":[22,122]}},"y":{"field":"y","type":"quantitative","scale":{"domain":[-2500,2500],"range":[88.5,22]},"axis":{"title":null,"values":[-2500,-2000,-1500,-1000,-500,0,500,1000,1500,2000,2500]}}},"layer":[{"mark":"area"},{"mark":"line"}]}
  ],"columns":2,"spacing":0,"bounds":"flush"},
  {"width":244,"height":5,"data":{"values":[]},"mark":"point"}
 ],"spacing":0},
 {"vconcat":[
  {"width":496,"height":26,"view":{"fill":"#c00000"},"data":{"values":[{"k":1,"t":"【単品】"},{"k":2,"t":"+2,000枚over  26台"}]},"mark":{"type":"text","fontSize":10,"fontWeight":"bold","color":"white"},"encoding":{"y":{"field":"k","type":"ordinal","axis":null,"scale":{"range":[6.5,20],"padding":0}},"text":{"field":"t"}}},
  {"concat":[
   {"width":124,"height":93,"data":{"name":"d1730"},"title":{"text":["1730","革命機ヴァルヴレイヴ"]},"encoding":{"x":{"field":"x","type":"quantitative","axis":null,"scale":{"nice":false,"range":[22,124]}},"y":{"field":"y","type":"quantitative","scale":{"domain":[-10000,10000],"range":[90.5,22]},"axis":{"title":null,"values":[-10000,-7500,-5000,-2500,0,2500,5000,7500,10000]}}},"layer":[{"mark":"area"},{"mark":"line"}]},
   {"width":124,"height":93,"data":{"name":"d1712"},"title":{"text":["1712","新鬼武者2"]},"encoding":{"x":{"field":"x","type":"quantitative","axis":null,"scale":{"nice":false,"range":[22,124]}},"y":{"field":"y","type":"quantitative","scale":{"domain":[-10000,10000],"range":[90.5,22]},"axis":{"title":null,"values":[-10000,-7500,-5000,-2500,0,2500,5000,7500,10000]}}},"layer":[{"mark":"area"},{"mark":"line"}]},
   {"width":124,"height":93,"data":{"name":"d1613"},"title":{"text":["1613","犬夜叉"]},"encoding":{"x":{"field":"x","type":"quantitative","axis":null,"scale":{"nice":false,"range":[22,124]}},"y":{"field":"y","type":"quantitative","scale":{"domain":[-10000,10000],"range":[90.5,22]},"axis":{"title":null,"values":[-10000,-7500,-5000,-2500,0,2500,5000,7500,10000]}}},"layer":[{"mark":"area"},{"mark":"line"}]},
   {"width":124,"height":93,"data":{"name":"d1517"},"title":{"text":["1517","緋弾のアリアII"]},"encoding":{"x":{"field":"x","type":"quantitative","axis":null,"scale":{"nice":false,"range":[22,124]}},"y":{"field":"y","type":"quantitative","scale":{"domain":[-10000,10000],"range":[90.5,22]},"axis":{"title":null,"values":[-10000,-7500,-5000,-2500,0,2500,5000,7500,10000]}}},"layer":[{"mark":"area"},{"mark":"line"}]},
   {"width":124,"height":93,"data":{"name":"d1677"},"title":{"text":["1677","押忍!番長ZERO"]},"encoding":{"x":{"field":"x","type":"quantitative","axis":null,"scale":{"nice":false,"range":[22,124]}},"y":{"field":"y","type":"quantitative","scale":{"domain":[-5000,5000],"range":[90.5,22]},"axis":{"title":null,"values":[-5000,-4000,-3000,-2000,-1000,0,1000,2000,3000,4000,5000]}}},"layer":[{"mark":"area"},{"mark":"line"}]},
   {"width":124,"height":93,"data":{"name":"d2007"},"title":{"text":["2007","ハードボイルド"]},"encoding":{"x":{"field":"x","type":"quantitative","axis":null,"scale":{"nice":false,"range":[22,124]}},"y":{"field":"y","type":"quantitative","scale":{"domain":[-5000,5000],"range":[90.5,22]},"axis":{"title":null,"values":[-5000,-4000,-3000,-2000,-1000,0,1000,2000,3000,4000,5000]}}},"layer":[{"mark":"area"},{"mark":"line"}]},
   {"width":124,"height":93,"data":{"name":"d1501"},"title":{"text":["1501","盾の勇者の成り上がり"]},"encoding":{"x":{"field":"x","type":"quantitative","axis":null,"scale":{"nice":false,"range":[22,124]}},"y":{"field":"y","type":"quantitative","scale":{"domain":[-5000,5000],"range":[90.5,22]},"axis":{"title":null,"values":[-5000,-4000,-3000,-2000,-1000,0,1000,2000,3000,4000,5000]}}},"layer":[{"mark":"area"},{"mark":"line"}]},
   {"width":124,"height":93,"data":{"name":"d1735"},"title":{"text":["1735","HEY！エリートサラリーマン鏡"]},"encoding":{"x":{"field":"x","type":"quantitative","axis":null,"scale":{"nice":false,"range":[22,124]}},"y":{"field":"y","type":"quantitative","scale":{"domain":[-5000,5000],"range":[90.5,22]},"axis":{"title":null,"values":[-5000,-4000,-3000,-2000,-1000,0,1000,2000,3000,4000,5000]}}},"layer":[{"mark":"area"},{"mark":"line"}]},
   {"width":124,"height":93,"data":{"name":"d1681"},"title":{"text":["1681","押忍!番長ZERO"]},"encoding":{"x":{"field":"x","type":"quantitative","axis":null,"scale":{"nice":false,"range":[22,124]}},"y":{"field":"y","type":"quantitative","scale":{"domain":[-5000,5000],"range":[90.5,22]},"axis":{"title":null,"values":[-5000,-4000,-3000,-2000,-1000,0,1000,2000,3000,4000,5000]}}},"layer":[{"mark":"area"},{"mark":"line"}]},
   {"width":124,"height":93,"data":{"name":"d2022"},"title":{"text":["2022","新ハナビ"]},"encoding":{"x":{"field":"x","type":"quantitative","axis":null,"scale":{"nice":false,"range":[22,124]}},"y":{"field":"y","type":"quantitative","scale":{"domain":[-5000,5000],"range":[90.5,22]},"axis":{"title":null,"values":[-5000,-4000,-3000,-2000,-1000,0,1000,2000,3000,4000,5000]}}},"layer":[{"mark":"area"},{"mark":"line"}]},
   {"width":124,"height":93,"data":{"name":"d1665"},"title":{"text":["1665","モンスターハンターワールド:アイスボ..."]},"encoding":{"x":{"field":"x","type":"quantitative","axis":null,"scale":{"nice":false,"range":[22,124]}},"y":{"field":"y","type":"quantitative","scale":{"domain":[-5000,5000],"range":[90.5,22]},"axis":{"title":null,"values":[-5000,-4000,-3000,-2000,-1000,0,1000,2000,3000,4000,5000]}}},"layer":[{"mark":"area"},{"mark":"line"}]},
   {"width":124,"height":93,"data":{"name":"d1707"},"title":{"text":["1707","新鬼武者2"]},"encoding":{"x":{"field":"x","type":"quantitative","axis":null,"scale":{"nice":false,"range":[22,124]}},"y":{"field":"y","type":"quantitative","scale":{"domain":[-5000,5000],"range":[90.5,22]},"axis":{"title":null,"values":[-5000,-4000,-3000,-2000,-1000,0,1000,2000,3000,4000,5000]}}},"layer":[{"mark":"area"},{"mark":"line"}]},
   {"width":124,"height":93,"data":{"name":"d1523"},"title":{"text":["1523","この素晴らしい世界に祝福を！"]},"encoding":{"x":{"field":"x","type":"quantitative","axis":null,"scale":{"nice":false,"range":[22,124]}},"y":{"field":"y","type":"quantitative","scale":{"domain":[-5000,5000],"range":[90.5,22]},"axis":{"title":null,"values":[-5000,-4000,-3000,-2000,-1000,0,1000,2000,3000,4000,5000]}}},"layer":[{"mark":"area"},{"mark":"line"}]},
   {"width":124,"height":93,"data":{"name":"d1515"},"title":{"text":["1515","バイオハザード RE:2"]},"encoding":{"x":{"field":"x","type":"quantitative","axis":null,"scale":{"nice":false,"range":[22,124]}},"y":{"field":"y","type":"quantitative","scale":{"domain":[-5000,5000],"range":[90.5,22]},"axis":{"title":null,"values":[-5000,-4000,-3000,-2000,-1000,0,1000,2000,3000,4000,5000]}}},"layer":[{"mark":"area"},{"mark":"line"}]},
   {"width":124,"height":93,"data":{"name":"d1802"},"title":{"text":["1802","マイジャグラーV"]},"encoding":{"x":{"field":"x","type":"quantitative","axis":null,"scale":{"nice":false,"range":[22,124]}},"y":{"field":"y","type":"quantitative","scale":{"domain":[-5000,5000],"range":[90.5,22]},"axis":{"title":null,"values":[-5000,-4000,-3000,-2000,-1000,0,1000,2000,3000,4000,5000]}}},"layer":[{"mark":"area"},{"mark":"line"}]},
   {"width":124,"height":93,"data":{"name":"d2020"},"title":{"text":["2020","新ハナビ"]},"encoding":{"x":{"field":"x","type":"quantitative","axis":null,"scale":{"nice":false,"range":[22,124]}},"y":{"field":"y","type":"quantitative","scale":{"domain":[-5000,5000],"range":[90.5,22]},"axis":{"title":null,"values":[-5000,-4000,-3000,-2000,-1000,0,1000,2000,3000,4000,5000]}}},"layer":[{"mark":"area"},{"mark":"line"}]},
   {"width":124,"height":93,"data":{"name":"d1516"},"title":{"text":["1516","緋弾のアリアII"]},"encoding":{"x":{"field":"x","type":"quantitative","axis":null,"scale":{"nice":false,"range":[22,124]}},"y":{"field":"y","type":"quantitative","scale":{"domain":[-5000,5000],"range":[90.5,22]},"axis":{"title":null,"values":[-5000,-4000,-3000,-2000,-1000,0,1000,2000,3000,4000,5000]}}},"layer":[{"mark":"area"},{"mark":"line"}]},
   {"width":124,"height":93,"data":{"name":"d2016"},"title":{"text":["2016","新ハナビ"]},"encoding":{"x":{"field":"x","type":"quantitative","axis":null,"scale":{"nice":false,"range":[22,124]}},"y":{"field":"y","type":"quantitative","scale":{"domain":[-2500,2500],"range":[90.5,22]},"axis":{"title":null,"values":[-2500,-2000,-1500,-1000,-500,0,500,1000,1500,2000,2500]}}},"layer":[{"mark":"area"},{"mark":"line"}]},
   {"width":124,"height":93,"data":{"name":"d1582"},"title":{"text":["1582","楽園追放"]},"encoding":{"x":{"field":"x","type":"quantitative","axis":null,"scale":{"nice":false,"range":[22,124]}},"y":{"field":"y","type":"quantitative","scale":{"domain":[-5000,5000],"range":[90.5,22]},"axis":{"title":null,"values":[-5000,-4000,-3000,-2000,-1000,0,1000,2000,3000,4000,5000]}}},"layer":[{"mark":"area"},{"mark":"line"}]},
   {"width":124,"height":93,"data":{"name":"d1851"},"title":{"text":["1851","アイムジャグラーEX-TP"]},"encoding":{"x":{"field":"x","type":"quantitative","axis":null,"scale":{"nice":false,"range":[22,124]}},"y":{"field":"y","type":"quantitative","scale":{"domain":[-5000,5000],"range":[90.5,22]},"axis":{"title":null,"values":[-5000,-4000,-3000,-2000,-1000,0,1000,2000,3000,4000,5000]}}},"layer":[{"mark":"area"},{"mark":"line"}]},
   {"width":124,"height":93,"data":{"name":"d1750"},"title":{"text":["1750","HEY！エリートサラリーマン鏡"]},"encoding":{"x":{"field":"x","type":"quantitative","axis":null,"scale":{"nice":false,"range":[22,124]}},"y":{"field":"y","type":"quantitative","scale":{"domain":[-5000,5000],"range":[90.5,22]},"axis":{"title":null,"values":[-5000,-4000,-3000,-2000,-1000,0,1000,2000,3000,4000,5000]}}},"layer":[{"mark":"area"},{"mark":"line"}]},
   {"width":124,"height":93,"data":{"name":"d1605"},"title":{"text":["1605","とある科学の超電磁砲"]},"encoding":{"x":{"field":"x","type":"quantitative","axis":null,"scale":{"nice":false,"range":[22,124]}},"y":{"field":"y","type":"quantitative","scale":{"domain":[-5000,5000],"range":[90.5,22]},"axis":{"title":null,"values":[-5000,-4000,-3000,-2000,-1000,0,1000,2000,3000,4000,5000]}}},"layer":[{"mark":"area"},{"mark":"line"}]},
   {"width":124,"height":93,"data":{"name":"d1737"},"title":{"text":["1737","HEY！エリートサラリーマン鏡"]},"encoding":{"x":{"field":"x","type":"quantitative","axis":null,"scale":{"nice":false,"range":[22,124]}},"y":{"field":"y","type":"quantitative","scale":{"domain":[-5000,5000],"range":[90.5,22]},"axis":{"title":null,"values":[-5000,-4000,-3000,-2000,-1000,0,1000,2000,3000,4000,5000]}}},"layer":[{"mark":"area"},{"mark":"line"}]},
   {"width":124,"height":93,"data":{"name":"d1655"},"title":{"text":["1655","劇場版 魔法少女まどか☆マギカ[前編..."]},"encoding":{"x":{"field":"x","type":"quantitative","axis":null,"scale":{"nice":false,"range":[22,124]}},"y":{"field":"y","type":"quantitative","scale":{"domain":[-5000,5000],"range":[90.5,22]},"axis":{"title":null,"values":[-5000,-4000,-3000,-2000,-1000,0,1000,2000,3000,4000,5000]}}},"layer":[{"mark":"area"},{"mark":"line"}]},
   {"width":124,"height":93,"data":{"name":"d1658"},"title":{"text":["1658","蒼天の拳"]},"encoding":{"x":{"field":"x","type":"quantitative","axis":null,"scale":{"nice":false,"range":[22,124]}},"y":{"field":"y","type":"quantitative","scale":{"domain":[-5000,5000],"range":[90.5,22]},"axis":{"title":null,"values":[-5000,-4000,-3000,-2000,-1000,0,1000,2000,3000,4000,5000]}}},"layer":[{"mark":"area"},{"mark":"line"}]},
   {"width":124,"height":93,"data":{"name":"d1713"},"title":{"text":["1713","新鬼武者2"]},"encoding":{"x":{"field":"x","type":"quantitative","axis":null,"scale":{"nice":false,"range":[22,124]}},"y":{"field":"y","type":"quantitative","scale":{"domain":[-5000,5000],"range":[90.5,22]},"axis":{"title":null,"values":[-5000,-4000,-3000,-2000,-1000,0,1000,2000,3000,4000,5000]}}},"layer":[{"mark":"area"},{"mark":"line"}]}
  ],"columns":4,"spacing":0,"bounds":"flush"},
  {"width":248,"height":5,"data":{"values":[]},"mark":"point"}
 ],"spacing":0}
 ],"spacing":4}
 ],"spacing":3.5}
],
"config":{
 "font":"Noto Sans CJK JP",
 "view":{"continuousWidth":122,"continuousHeight":91,"fill":"#2e2e2e","stroke":null},
 "title":{"fontSize":5.2,"color":"#d0d0d0","fontWeight":"normal","offset":-16,"lineHeight":5.8,"anchor":"middle","font":"Noto Sans CJK JP"},
 "axisY":{"labelFontSize":5,"labelColor":"#c4c4c4","domain":false,"ticks":false,"tickSize":0,"labelPadding":-19,"format":"d","gridColor":{"condition":{"test":"datum.value === 0","value":"#8a2a1a"},"value":"#4a4a4a"},"gridWidth":0.7,"labelFont":"Noto Sans CJK JP"},
 "area":{"color":"#1f6e1f","fillOpacity":0.6,"interpolate":"monotone"},
 "line":{"color":"#9be07a","strokeWidth":1.3,"interpolate":"monotone"},
 "text":{"font":"Noto Sans CJK JP"}
}
}
